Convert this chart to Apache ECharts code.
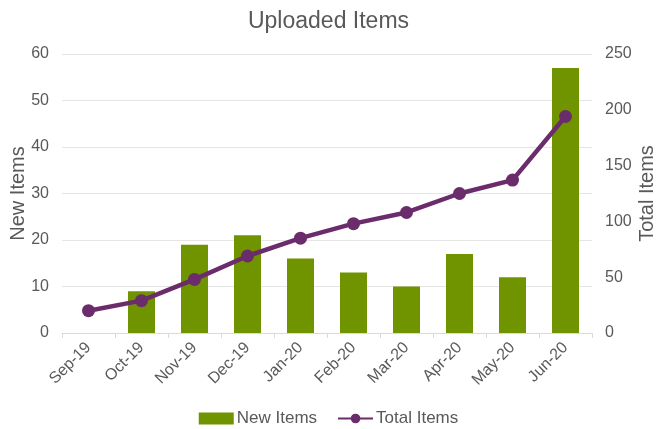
<!DOCTYPE html>
<html>
<head>
<meta charset="utf-8">
<script src="https://cdn.jsdelivr.net/npm/echarts@6/dist/echarts.min.js"></script>
<style>
  html, body { margin: 0; padding: 0; background: #fff; }
  #main { width: 657px; height: 429px; }
</style>
</head>
<body>
<div id="main"></div>
<script>
var months = ['Sep-19', 'Oct-19', 'Nov-19', 'Dec-19', 'Jan-20', 'Feb-20', 'Mar-20', 'Apr-20', 'May-20', 'Jun-20'];
var newItems = [0, 9, 19, 21, 16, 13, 10, 17, 12, 57];
var totalItems = [20, 29, 48, 69, 85, 98, 108, 125, 137, 194];

var textColor = '#595959';
var fontFam = 'Liberation Sans, Arial, sans-serif';

var myChart = echarts.init(document.getElementById('main'));

var option = {
    title: {
        text: 'Uploaded Items',
        left: 'center',
        top: 5,
        textStyle: { fontSize: 23, fontWeight: 'normal', color: textColor, fontFamily: fontFam }
    },
    legend: {
        top: 405,
        left: 'center',
        itemGap: 20,
        itemWidth: 35,
        itemHeight: 12,
        textStyle: { fontSize: 17, color: textColor, fontFamily: fontFam, padding: [0, 0, 0, -2] },
        data: [
            { name: 'New Items', icon: 'rect' },
            { name: 'Total Items' }
        ]
    },
    grid: { left: 62, right: 65, top: 54, bottom: 96, containLabel: false, outerBoundsMode: 'none' },
    xAxis: {
        type: 'category',
        data: months,
        axisLine: { lineStyle: { color: '#d9d9d9' } },
        axisTick: { show: true, lineStyle: { color: '#d9d9d9' } },
        axisLabel: { rotate: 45, color: textColor, fontSize: 16, fontFamily: fontFam, margin: 12 }
    },
    yAxis: [
        {
            type: 'value',
            name: 'New Items',
            nameLocation: 'middle',
            nameGap: 34,
            nameMoveOverlap: false,
            nameTextStyle: { fontSize: 20, color: textColor, fontFamily: fontFam },
            min: 0, max: 60, interval: 10,
            axisLabel: { color: textColor, fontSize: 16, fontFamily: fontFam, margin: 13 },
            splitLine: { lineStyle: { color: '#e5e5e5' } }
        },
        {
            type: 'value',
            name: 'Total Items',
            nameLocation: 'middle',
            nameGap: 45,
            nameMoveOverlap: false,
            nameRotate: 90,
            nameTextStyle: { fontSize: 20, color: textColor, fontFamily: fontFam },
            min: 0, max: 250, interval: 50,
            axisLabel: { color: textColor, fontSize: 16, fontFamily: fontFam, margin: 13 },
            splitLine: { show: false }
        }
    ],
    series: [
        {
            name: 'New Items',
            type: 'bar',
            yAxisIndex: 0,
            barWidth: 27,
            itemStyle: { color: '#709400' },
            data: newItems
        },
        {
            name: 'Total Items',
            type: 'line',
            yAxisIndex: 1,
            symbol: 'circle',
            symbolSize: 13,
            lineStyle: { width: 4.5, color: '#6b2c6c' },
            itemStyle: { color: '#6b2c6c' },
            data: totalItems
        }
    ]
};

myChart.setOption(option);
</script>
</body>
</html>
